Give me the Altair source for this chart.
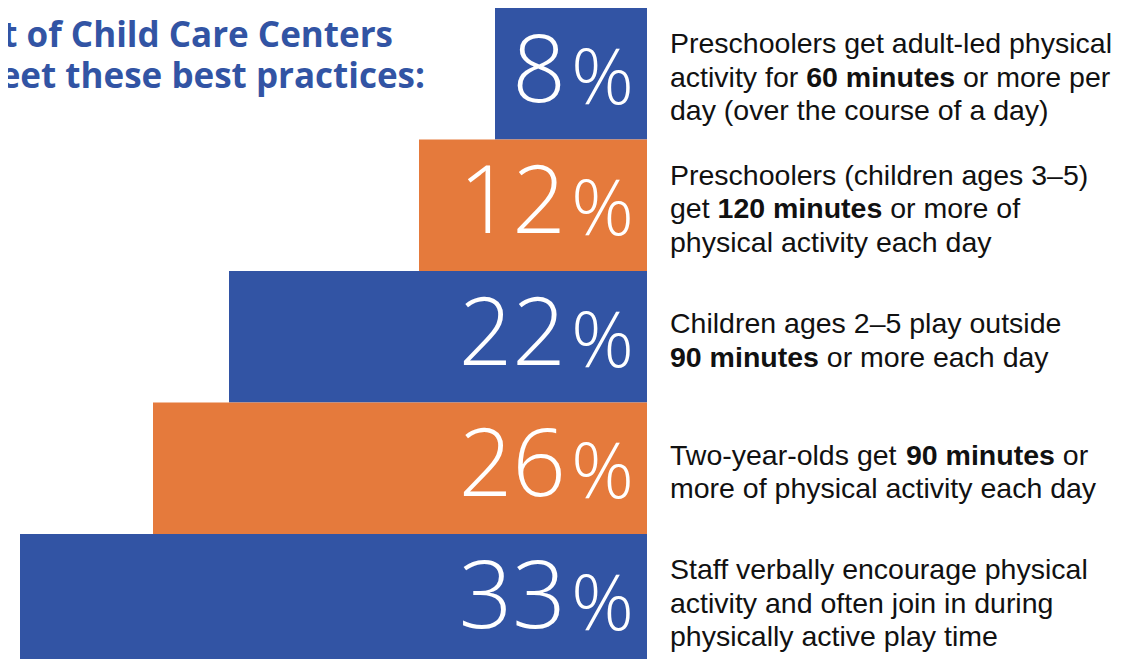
import altair as alt
import pandas as pd

# ---------------- data ----------------
categories = ["adult_led_60", "preschool_120", "outside_90", "twoyear_90", "staff_encourage"]
values = [8, 12, 22, 26, 33]
bar_colors = ["#3254A4", "#E57A3C", "#3254A4", "#E57A3C", "#3254A4"]

descriptions = [
    [[("Preschoolers get adult-led physical", False)],
     [("activity for", False), ("60 minutes", True), ("or more per", False)],
     [("day (over the course of a day)", False)]],
    [[("Preschoolers (children ages 3–5)", False)],
     [("get", False), ("120 minutes", True), ("or more of", False)],
     [("physical activity each day", False)]],
    [[("Children ages 2–5 play outside", False)],
     [("90 minutes", True), ("or more each day", False)]],
    [[("Two-year-olds get", False), ("90 minutes", True), ("or", False)],
     [("more of physical activity each day", False)]],
    [[("Staff verbally encourage physical", False)],
     [("activity and often join in during", False)],
     [("physically active play time", False)]],
]

title_lines = ["Percent of Child Care Centers", "that meet these best practices:"]

# ---------------- layout / style ----------------
W, H = 1131, 651
BAND = 131.5
BLUE = "#3254A4"
DESC_FONT = "Liberation Sans"
DESC_SIZE = 28.5
LINE_GAP = 33.5
TEXT_X = 662

# Arial / Liberation Sans advance widths (1/1000 em)
REG = {' ': 278, '(': 333, ')': 333, '-': 333, '–': 556, 'C': 722, 'P': 667, 'S': 667, 'T': 611,
       'a': 556, 'b': 556, 'c': 500, 'd': 556, 'e': 556, 'f': 278, 'g': 556, 'h': 556, 'i': 222,
       'j': 222, 'k': 500, 'l': 222, 'm': 833, 'n': 556, 'o': 556, 'p': 556, 'q': 556, 'r': 333,
       's': 500, 't': 278, 'u': 556, 'v': 500, 'w': 722, 'x': 500, 'y': 500, 'z': 500}
BOLD = {' ': 278, '(': 333, ')': 333, '-': 333, '–': 556, 'C': 722, 'P': 667, 'S': 667, 'T': 611,
        'a': 556, 'b': 611, 'c': 556, 'd': 611, 'e': 556, 'f': 333, 'g': 611, 'h': 611, 'i': 278,
        'j': 278, 'k': 556, 'l': 278, 'm': 889, 'n': 611, 'o': 611, 'p': 611, 'q': 611, 'r': 389,
        's': 556, 't': 333, 'u': 611, 'v': 556, 'w': 778, 'x': 556, 'y': 556, 'z': 500}
for d in "0123456789":
    REG[d] = 556
    BOLD[d] = 556


def text_width(s, bold):
    table = BOLD if bold else REG
    return sum(table.get(c, 556) for c in s) * DESC_SIZE / 1000.0


bars_df = pd.DataFrame({
    "cat": categories,
    "value": values,
    "color": bar_colors,
    "num": [str(v) for v in values],
})

rows = []
for cat, lines in zip(categories, descriptions):
    n = len(lines)
    for i, segs in enumerate(lines):
        # offset from the top of the row's band
        off = BAND / 2.0 + (i - (n - 1) / 2.0) * LINE_GAP + 13
        x = TEXT_X
        for j, (txt, bold) in enumerate(segs):
            if j > 0:
                x += REG[' '] * DESC_SIZE / 1000.0
            rows.append({"cat": cat, "off": off, "px": x, "txt": txt, "bold": bold})
            x += text_width(txt, bold)
desc_df = pd.DataFrame(rows)

y_scale = alt.Scale(domain=categories, range=[0, BAND * 5], paddingInner=0, paddingOuter=0)
x_scale = alt.Scale(domain=[0, 33], range=[639, 12], nice=False, zero=True)

base = alt.Chart(bars_df)
bars = base.mark_bar(strokeWidth=0).encode(
    y=alt.Y("cat:N", scale=y_scale, axis=None),
    x=alt.X("value:Q", scale=x_scale, axis=None),
    x2=alt.datum(0),
    color=alt.Color("color:N", scale=None, legend=None),
)
nums = base.mark_text(align="right", baseline="alphabetic", font="Open Sans", fontWeight=300,
                      fontSize=94, color="white", dx=-81, dy=28).encode(
    y=alt.Y("cat:N", scale=y_scale, axis=None),
    x=alt.datum(0),
    text="num:N",
)
pcts = base.mark_text(align="right", baseline="alphabetic", font="Open Sans", fontWeight=300,
                      fontSize=78, color="white", dx=-13, dy=30).encode(
    y=alt.Y("cat:N", scale=y_scale, axis=None),
    x=alt.datum(0),
    text=alt.value("%"),
)
bar_layer = alt.layer(bars, nums, pcts)

desc_base = alt.Chart(desc_df)
desc_reg = desc_base.transform_filter("!datum.bold").mark_text(
    align="left", baseline="alphabetic", font=DESC_FONT, fontSize=DESC_SIZE, color="#111111").encode(
    y=alt.Y("cat:N", scale=y_scale, axis=None),
    yOffset=alt.YOffset("off:Q", scale=None),
    x=alt.X("px:Q", scale=None, axis=None),
    text="txt:N",
)
desc_bold = desc_base.transform_filter("datum.bold").mark_text(
    align="left", baseline="alphabetic", font=DESC_FONT, fontSize=DESC_SIZE, fontWeight="bold",
    color="#111111").encode(
    y=alt.Y("cat:N", scale=y_scale, axis=None),
    yOffset=alt.YOffset("off:Q", scale=None),
    x=alt.X("px:Q", scale=None, axis=None),
    text="txt:N",
)

title_df = pd.DataFrame({"t": title_lines, "i": [0, 1]})
title1 = alt.Chart(title_df).transform_filter("datum.i == 0").mark_text(
    align="right", baseline="alphabetic", font="Open Sans", fontWeight="bold", fontSize=35, color=BLUE).encode(
    x=alt.value(385), y=alt.value(39), text="t:N")
title2 = alt.Chart(title_df).transform_filter("datum.i == 1").mark_text(
    align="right", baseline="alphabetic", font="Open Sans", fontWeight="bold", fontSize=35, color=BLUE).encode(
    x=alt.value(417), y=alt.value(80), text="t:N")

chart = alt.layer(bar_layer, desc_reg, desc_bold, title1, title2).resolve_scale(
    x="independent"
).properties(
    width=W, height=H,
    autosize=alt.AutoSizeParams(type="none"),
    padding=0,
    background="white",
).configure_view(stroke=None)

chart.save("out.html", embed_options={"renderer": "svg", "actions": False})
